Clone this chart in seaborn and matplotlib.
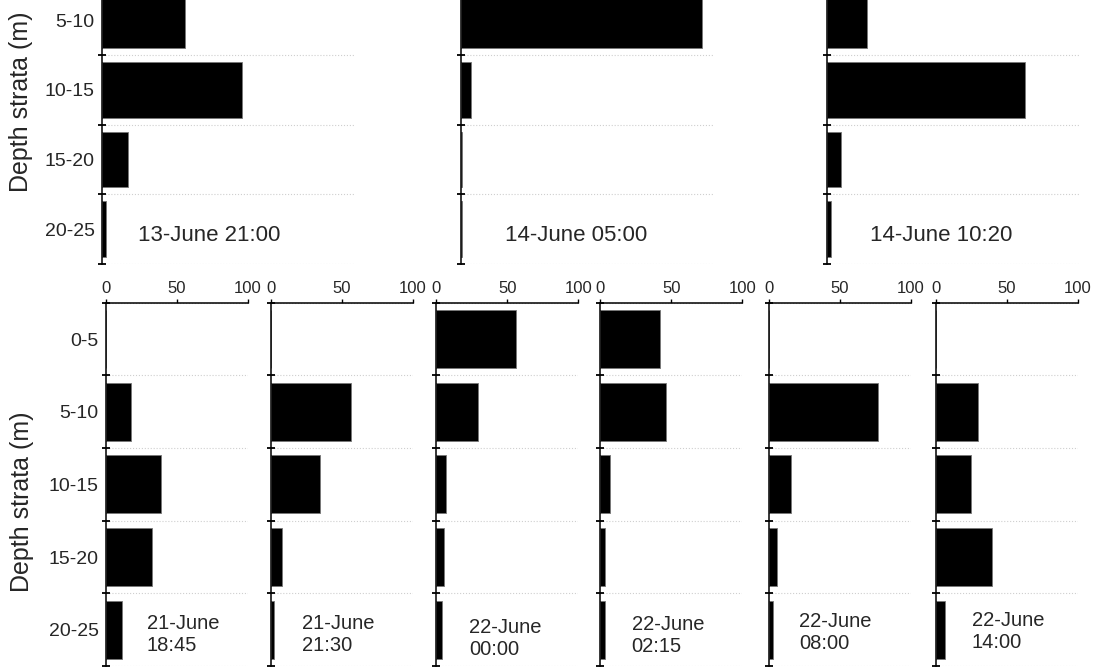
import numpy as np
import pandas as pd
import matplotlib
matplotlib.use("Agg")
import matplotlib.pyplot as plt
import seaborn as sns

# depth strata (m), top to bottom
depths = ["0-5", "5-10", "10-15", "15-20", "20-25"]

# top row (percent per stratum)
top_labels = ["13-June 21:00", "14-June 05:00", "14-June 10:20"]
top_13jun_2100 = [0, 32.9, 55.3, 10.5, 1.7]
top_14jun_0500 = [0, 95.5, 3.9, 0.5, 0.5]
top_14jun_1020 = [0, 15.7, 78.2, 5.3, 1.5]

# bottom row
bottom_labels = ["21-June\n18:45", "21-June\n21:30", "22-June\n00:00",
                 "22-June\n02:15", "22-June\n08:00", "22-June\n14:00"]
jun21_1845 = [0, 17.6, 38.8, 32.7, 11.8]
jun21_2130 = [0, 56.4, 34.4, 7.5, 2.1]
jun22_0000 = [56.4, 29.6, 6.9, 5.4, 3.6]
jun22_0215 = [42.3, 46.1, 6.8, 3.3, 3.3]
jun22_0800 = [0, 76.9, 15.6, 6.0, 3.3]
jun22_1400 = [0, 29.7, 24.6, 39.9, 6.9]

x_ticks = [0, 50, 100]

top_series = [top_13jun_2100, top_14jun_0500, top_14jun_1020]
bottom_series = [jun21_1845, jun21_2130, jun22_0000, jun22_0215, jun22_0800, jun22_1400]

sns.set_style("white")
plt.rcParams["font.family"] = ["Liberation Sans", "DejaVu Sans"]

W, H = 1096, 670
fig = plt.figure(figsize=(W / 100, H / 100), dpi=100)


def add_ax(left, top, width, height):
    # pixel box -> figure fraction
    return fig.add_axes([left / W, 1 - (top + height) / H, width / W, height / H])


def style_common(ax, vals, first, labels):
    sns.barplot(x=vals, y=depths, orient="h", color="black", width=0.8,
                edgecolor="#777777", linewidth=0.6, saturation=1, ax=ax)
    ax.set_xlim(0, 100)
    ax.set_ylim(4.5, -0.5)
    ax.set_xlabel("")
    ax.set_ylabel("")
    ax.grid(False)
    ax.set_yticks(range(len(depths)))
    if first:
        ax.set_yticklabels(labels)
    else:
        ax.set_yticklabels([])
    ax.tick_params(axis="y", which="major", length=0, pad=5, labelsize=14)
    ax.set_yticks(np.arange(-0.5, len(depths), 1), minor=True)
    ax.tick_params(axis="y", which="minor", direction="inout", length=6,
                   width=1.3, color="black", left=True)
    ax.yaxis.grid(True, which="minor", linestyle=":", color="#cfcfcf", linewidth=0.8)
    ax.set_axisbelow(True)
    for s in ["right", "bottom", "top"]:
        ax.spines[s].set_visible(False)
    ax.spines["left"].set_color("black")
    ax.spines["left"].set_linewidth(1.1)


# top row, upper part cropped off the figure (0-5 row not visible)
top_lefts = [101.7, 460.7, 827.3]
top_text_x = [14.3, 17.4, 17.0]
top_ticklabels = [""] + depths[1:]
for i, (vals, lab) in enumerate(zip(top_series, top_labels)):
    ax = add_ax(top_lefts[i], -84.5, 253, 348.5)
    style_common(ax, vals, i == 0, top_ticklabels)
    ax.set_xticks([])
    ax.text(top_text_x[i], 4.09, lab, fontsize=16, ha="left", va="center")
    if i == 0:
        ax.set_ylabel("Depth strata (m)", fontsize=18)
        ax.yaxis.set_label_coords(-0.27, 0.465)

# bottom row, x axis on top
bot_lefts = [105.7, 271.0, 436.4, 600.4, 768.7, 935.7]
bot_text_x = [28.9, 21.8, 23.3, 22.0, 21.3, 25.5]
bot_text_y = [4.07, 4.07, 4.12, 4.08, 4.04, 4.02]
for i, (vals, lab) in enumerate(zip(bottom_series, bottom_labels)):
    ax = add_ax(bot_lefts[i], 302.7, 142, 363.3)
    style_common(ax, vals, i == 0, depths)
    ax.spines["top"].set_visible(True)
    ax.spines["top"].set_color("black")
    ax.spines["top"].set_linewidth(1.1)
    ax.xaxis.tick_top()
    ax.set_xticks(x_ticks)
    ax.tick_params(axis="x", direction="out", length=3, width=1, pad=2,
                   labelsize=12, color="black")
    ax.text(bot_text_x[i], bot_text_y[i], lab, fontsize=14.5, ha="left",
            va="center", linespacing=1.2)
    if i == 0:
        ax.set_ylabel("Depth strata (m)", fontsize=18)
        ax.yaxis.set_label_coords(-0.505, 0.451)

fig.savefig("out.png", dpi=100)
